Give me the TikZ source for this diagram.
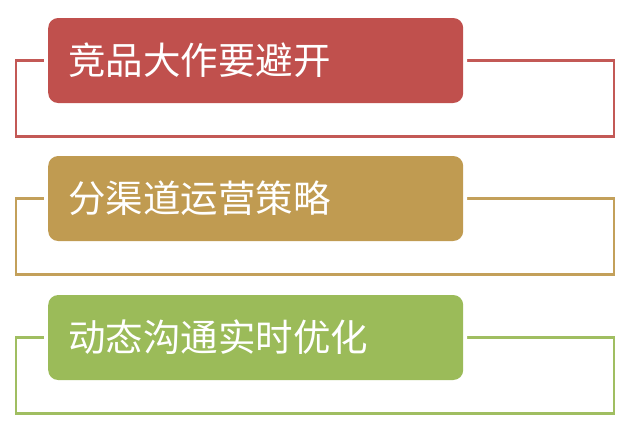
\documentclass[tikz,border=0pt]{standalone}
\usepackage{fontspec}
\newfontfamily\cjk{Noto Sans CJK SC}
\definecolor{cred}{HTML}{C0504D}
\definecolor{cgold}{HTML}{C09B51}
\definecolor{cgreen}{HTML}{9BBB59}
\begin{document}
\begin{tikzpicture}[x=1pt,y=-1pt,
  box/.style={rounded corners=10pt,minimum width=415pt,minimum height=85pt,inner sep=0pt,
    text=white,font=\cjk\fontsize{37.5}{42}\selectfont,anchor=west,text width=395pt,align=left},
  frame/.style={line width=2.4pt}]
\useasboundingbox (0,0) rectangle (634,440);
\foreach \c/\y/\t/\n in {cred/60.5/竞品大作要避开/a, cgold/198.5/分渠道运营策略/b, cgreen/337.5/动态沟通实时优化/c}{
  \draw[frame,\c!95!white] (100,\y) -- (16,\y) -- (16,\y+76) -- (614,\y+76) -- (614,\y) -- (400,\y);
  \fill[white,rounded corners=12pt] (44,\y-46.5) rectangle (467,\y+46.5);
  \node[box,fill=\c] (\n) at (48,\y) {\hspace*{10pt}\t};
}
\end{tikzpicture}
\end{document}
